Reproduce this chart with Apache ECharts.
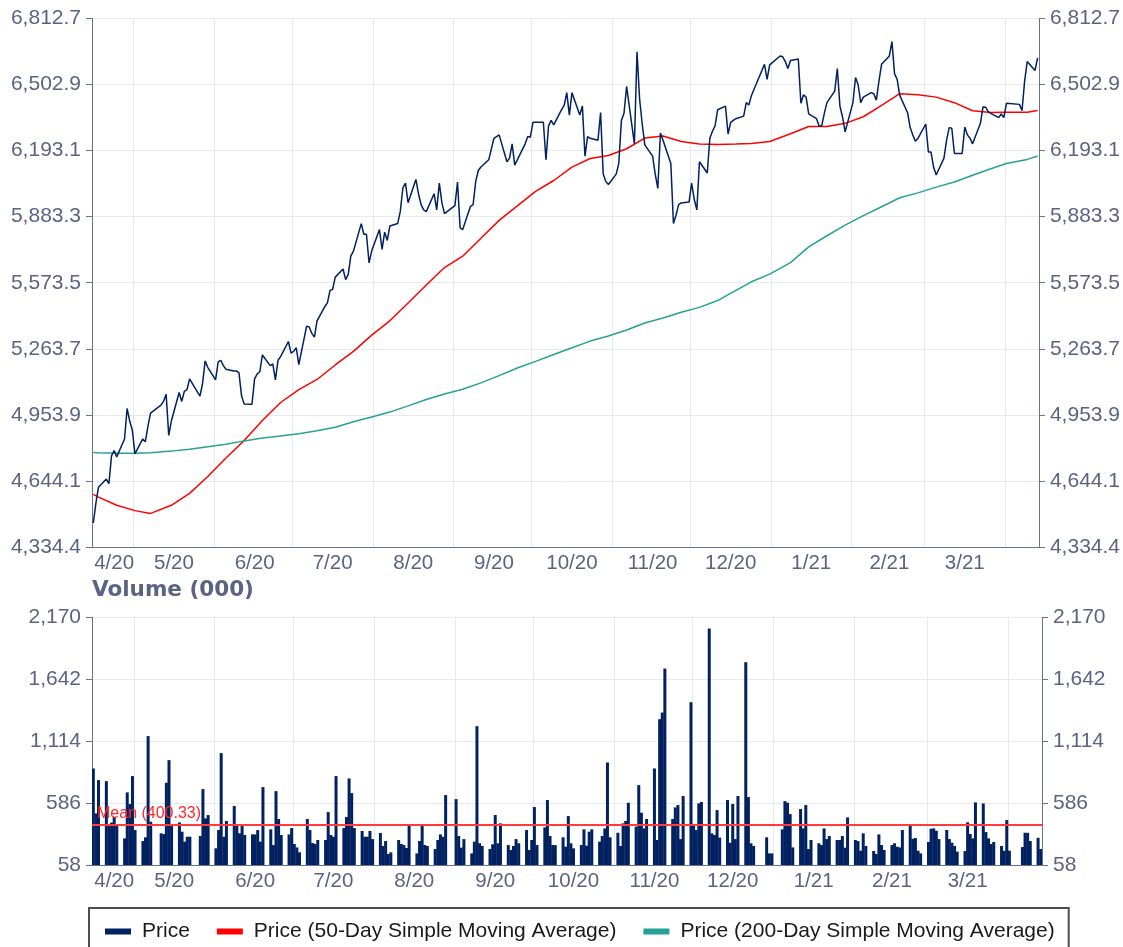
<!DOCTYPE html>
<html>
<head>
<meta charset="utf-8">
<title>Price and Volume</title>
<script src="https://cdn.jsdelivr.net/npm/echarts@6/dist/echarts.min.js"></script>
<style>
  html, body { margin: 0; padding: 0; background: #fff; }
  #chart { width: 1123px; height: 947px; }
</style>
</head>
<body>
<div id="chart"></div>
<script>
// axis range (calendar days) and market holidays
const startDate = '2020-04-15';
const endDate = '2021-04-13';
const holidays = ['2020-05-08', '2020-05-25', '2020-08-31', '2020-12-25', '2020-12-28',
                  '2021-01-01', '2021-04-02', '2021-04-05'];

const monthLabels = ['4/20', '5/20', '6/20', '7/20', '8/20', '9/20', '10/20', '11/20',
                     '12/20', '1/21', '2/21', '3/21'];
const priceTicks = [4334.4, 4644.1, 4953.9, 5263.7, 5573.5, 5883.3, 6193.1, 6502.9, 6812.7];
const volumeTicks = [58, 586, 1114, 1642, 2170];
const volumeMean = 400.33;

// closing price, one value per trading day (rows = months)
const price = [
  4447, 4540, 4615, 4653, 4631, 4762, 4787, 4757, 4841, 4984, 4925, 4883,
  4771, 4841, 4828, 4900, 4962, 5000, 5017, 5051, 4858, 4925, 5059, 5017, 5064, 5072, 5123, 5042, 5101, 5207, 5177,
  5118, 5202, 5210, 5185, 5168, 5160, 5160, 5151, 5042, 5005, 5004, 5123, 5146, 5156, 5235, 5185, 5193, 5118, 5210, 5227, 5298, 5244,
  5252, 5269, 5190, 5370, 5366, 5336, 5319, 5395, 5462, 5479, 5538, 5543, 5600, 5638, 5588, 5613, 5700, 5722, 5851, 5801, 5801, 5667, 5722,
  5823, 5730, 5811, 5772, 5840, 5851, 5907, 6019, 6041, 5949, 6058, 5991, 5940, 5915, 5907, 5991, 5915, 6041, 5949, 5898,
  5935, 6046, 5831, 5823, 5932, 5940, 6049, 6100, 6116, 6150, 6200, 6251, 6259, 6267, 6141, 6158, 6225, 6125, 6150, 6225, 6259, 6256,
  6326, 6326, 6326, 6150, 6309, 6335, 6314, 6385, 6405, 6465, 6360, 6465, 6360, 6402, 6167, 6259, 6251, 6242, 6372, 6083, 6049, 6034,
  6083, 6133, 6335, 6368, 6494, 6225, 6657, 6435, 6318, 6220, 6167, 6083, 6016, 6276, 6242, 6133, 5851, 5890, 5940, 5948, 5952,
  6041, 5965, 5915, 6141, 6088, 6251, 6284, 6309, 6385, 6402, 6271, 6326, 6335, 6343, 6355, 6418, 6407, 6452, 6598, 6527, 6595,
  6637, 6633, 6611, 6578, 6616, 6623, 6415, 6455, 6444, 6365, 6343, 6309, 6309, 6368, 6418, 6472, 6578, 6402, 6351, 6281,
  6418, 6536, 6502, 6418, 6444, 6465, 6460, 6430, 6519, 6598, 6637, 6704, 6553, 6527, 6452, 6371, 6301, 6267, 6237, 6251,
  6318, 6187, 6187, 6116, 6079, 6158, 6242, 6301, 6298, 6180, 6180, 6304, 6267, 6251, 6225, 6321, 6398, 6397, 6376, 6368, 6348, 6365, 6348,
  6415, 6410, 6381, 6519, 6611, 6569, 6628
];

// volume (000), one value per trading day
const volume = [
  881, 498, 782, 773, 399, 420, 470, 399, 285, 677, 578, 816,
  356, 262, 294, 1157, 427, 328, 322, 759, 952, 399, 421, 342, 257, 299, 299, 305, 705, 455, 484,
  200, 356, 1012, 299, 433, 561, 399, 328, 407, 314, 319, 319, 356, 257, 722, 362, 228, 688, 450, 314, 319, 373,
  237, 208, 166, 450, 356, 245, 237, 271, 271, 509, 314, 299, 816, 373, 467, 796, 671, 373, 348, 299, 299, 348, 279,
  331, 220, 262, 152, 166, 271, 237, 228, 203, 399, 157, 262, 393, 228, 220, 194, 271, 319, 299, 654,
  620, 305, 206, 279, 157, 257, 1242, 243, 220, 194, 234, 484, 243, 413, 228, 186, 220, 279, 243, 356, 186, 271,
  552, 228, 379, 612, 305, 228, 228, 294, 214, 475, 243, 200, 228, 362, 223, 342, 362, 257, 305, 370, 932, 294,
  333, 220, 413, 433, 589, 385, 739, 504, 370, 450, 881, 271, 1301, 1358, 1733, 450, 549, 569, 279, 646, 1446,
  407, 356, 583, 595, 2074, 328, 314, 526, 291, 612, 248, 578, 279, 646, 1787, 637, 243, 220, 294, 157, 157,
  362, 603, 589, 492, 208, 535, 370, 569, 194, 271, 243, 228, 370, 279, 305, 271, 271, 305, 206, 464,
  271, 262, 180, 328, 220, 177, 152, 319, 228, 186, 228, 243, 214, 208, 356, 393, 282, 288, 180, 157,
  254, 367, 370, 350, 279, 356, 279, 248, 220, 172, 177, 422, 322, 285, 592, 583, 339, 285, 237, 254, 220, 180, 441,
  180, 211, 333, 332, 262, 290, 194
];

// moving averages read once a week (first day, last trading day of each week, last day)
const sma50 = [
  4581, 4568, 4530, 4505, 4492, 4530, 4586, 4665, 4752, 4834,
  4928, 5012, 5072, 5120, 5188, 5252, 5328, 5395, 5479, 5563,
  5645, 5698, 5782, 5866, 5934, 6002, 6053, 6116, 6156, 6170,
  6202, 6252, 6262, 6236, 6224, 6222, 6224, 6227, 6236, 6272,
  6306, 6306, 6321, 6352, 6405, 6460, 6455, 6444, 6418, 6380,
  6372, 6373, 6373, 6381
];
const sma200 = [
  4777, 4776, 4774, 4774, 4776, 4784, 4793, 4805, 4816, 4832,
  4845, 4855, 4866, 4880, 4896, 4922, 4944, 4967, 4996, 5026,
  5052, 5074, 5104, 5138, 5174, 5205, 5237, 5269, 5300, 5324,
  5352, 5385, 5408, 5435, 5458, 5490, 5538, 5578, 5614, 5668,
  5742, 5794, 5844, 5888, 5930, 5972, 5995, 6022, 6046, 6078,
  6108, 6133, 6152, 6168
];

const navy = '#012160';
const red = '#ff0000';
const teal = '#26a196';
const axisColor = '#6b7290';
const labelColor = '#5b6382';
const gridColor = '#e8e8ef';
const font = "'Liberation Sans', Arial, sans-serif";

// calendar days on the x axis, trading days among them
const DAY = 86400000;
const days = [];
for (let t = Date.parse(startDate); t <= Date.parse(endDate); t += DAY) {
  days.push(new Date(t).toISOString().slice(0, 10));
}
const tradingIdx = [];
days.forEach((d, i) => {
  const wd = new Date(d + 'T00:00:00Z').getUTCDay();
  if (wd !== 0 && wd !== 6 && holidays.indexOf(d) < 0) tradingIdx.push(i);
});
const startDow = new Date(startDate + 'T00:00:00Z').getUTCDay();
const weekOf = i => Math.floor((i + startDow - 1) / 7);
const weeklyIdx = tradingIdx.filter((c, k) =>
  k === 0 || k === tradingIdx.length - 1 || weekOf(tradingIdx[k + 1]) !== weekOf(c));

// month boundaries and label positions (label centred in each month)
const monthKey = d => (+d.slice(5, 7)) + '/' + d.slice(2, 4);
const monthStarts = new Set();
const monthRange = {};
days.forEach((d, i) => {
  const k = monthKey(d);
  if (!monthRange[k]) monthRange[k] = [i, i];
  monthRange[k][1] = i;
  if (i > 0 && d.slice(8) === '01') monthStarts.add(i);
});
const labelAt = new Map();
monthLabels.forEach(k => {
  const r = monthRange[k];
  if (r) labelAt.set(Math.round((r[0] + r[1]) / 2), k);
});

const fmtPrice = v => {
  const t = priceTicks.reduce((a, b) => Math.abs(b - v) < Math.abs(a - v) ? b : a);
  return t.toLocaleString('en-US', { minimumFractionDigits: 1, maximumFractionDigits: 1 });
};
const fmtVolume = v => {
  const t = volumeTicks.reduce((a, b) => Math.abs(b - v) < Math.abs(a - v) ? b : a);
  return t.toLocaleString('en-US');
};

function xAxisFor(gridIndex) {
  return {
    type: 'category',
    gridIndex: gridIndex,
    data: days,
    boundaryGap: true,
    axisLine: { lineStyle: { color: axisColor, width: 1 } },
    axisTick: { interval: i => monthStarts.has(i), length: 10, lineStyle: { color: axisColor } },
    axisLabel: {
      interval: i => labelAt.has(i),
      formatter: (v, i) => labelAt.get(i) || '',
      color: labelColor, fontSize: 20.5, fontFamily: font, margin: 6
    },
    splitLine: { show: true, interval: i => monthStarts.has(i), lineStyle: { color: gridColor, width: 1 } }
  };
}

function yAxisFor(gridIndex, position, ticks, fmt, showSplit) {
  const min = ticks[0], max = ticks[ticks.length - 1];
  return {
    type: 'value',
    gridIndex: gridIndex,
    position: position,
    min: min,
    max: max,
    interval: (max - min) / (ticks.length - 1),
    axisLine: { show: true, lineStyle: { color: axisColor, width: 1 } },
    axisTick: { show: true, length: 6, lineStyle: { color: axisColor } },
    axisLabel: { formatter: fmt, color: labelColor, fontSize: 21, fontFamily: font, margin: 11 },
    splitLine: { show: showSplit, lineStyle: { color: gridColor, width: 1 } }
  };
}

const chart = echarts.init(document.getElementById('chart'), null, { renderer: 'canvas' });
const option = {
  animation: false,
  backgroundColor: '#ffffff',
  textStyle: { fontFamily: font },
  title: {
    text: 'Volume (000)',
    left: 92,
    top: 579,
    padding: 0,
    textStyle: { fontFamily: "'DejaVu Sans', sans-serif", fontWeight: 'bold', fontSize: 21.5, color: labelColor }
  },
  legend: {
    data: ['Price', 'Price (50-Day Simple Moving Average)', 'Price (200-Day Simple Moving Average)'],
    left: 89,
    top: 908,
    padding: [13, 14, 13, 16],
    itemGap: 27,
    itemWidth: 26,
    itemHeight: 6,
    icon: 'rect',
    borderColor: '#4d4d4d',
    borderWidth: 2,
    borderRadius: 0,
    backgroundColor: '#ffffff',
    textStyle: { fontSize: 21, color: '#1a1a1a', fontFamily: font, padding: [0, 0, 0, 6] }
  },
  grid: [
    { left: 92, right: 81, top: 18.5, height: 528.5 },
    { left: 92, right: 81, top: 617.3, height: 247.7 }
  ],
  xAxis: [xAxisFor(0), xAxisFor(1)],
  yAxis: [
    yAxisFor(0, 'left', priceTicks, fmtPrice, true),
    yAxisFor(0, 'right', priceTicks, fmtPrice, false),
    yAxisFor(1, 'left', volumeTicks, fmtVolume, true),
    yAxisFor(1, 'right', volumeTicks, fmtVolume, false)
  ],
  series: [
    {
      name: 'Price',
      type: 'line',
      xAxisIndex: 0,
      yAxisIndex: 0,
      data: tradingIdx.map((c, k) => [c, price[k]]),
      showSymbol: false,
      color: navy,
      lineStyle: { color: navy, width: 1.5 },
      z: 4
    },
    {
      name: 'Price (50-Day Simple Moving Average)',
      type: 'line',
      xAxisIndex: 0,
      yAxisIndex: 0,
      data: weeklyIdx.map((c, k) => [c, sma50[k]]),
      showSymbol: false,
      color: red,
      lineStyle: { color: red, width: 1.5 },
      z: 3
    },
    {
      name: 'Price (200-Day Simple Moving Average)',
      type: 'line',
      xAxisIndex: 0,
      yAxisIndex: 0,
      data: weeklyIdx.map((c, k) => [c, sma200[k]]),
      showSymbol: false,
      color: teal,
      lineStyle: { color: teal, width: 1.5 },
      z: 3
    },
    {
      name: 'Volume',
      type: 'bar',
      xAxisIndex: 1,
      yAxisIndex: 2,
      data: tradingIdx.map((c, k) => [c, volume[k]]),
      barWidth: 3,
      color: navy,
      itemStyle: { color: navy },
      markLine: {
        silent: true,
        symbol: 'none',
        data: [{ yAxis: volumeMean }],
        lineStyle: { color: '#ff3b3b', width: 2, type: 'solid' },
        label: {
          position: 'insideStartTop',
          formatter: 'Mean (' + volumeMean + ')',
          color: '#ff2a2a',
          fontSize: 16,
          fontFamily: font,
          distance: [5, 3]
        }
      }
    }
  ]
};
chart.setOption(option);
</script>
</body>
</html>
